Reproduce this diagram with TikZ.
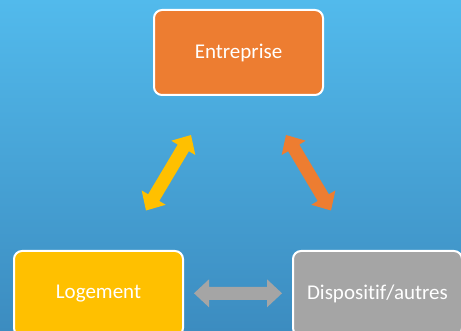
\documentclass[tikz,border=0pt]{standalone}
\usepackage{fontspec}
\setmainfont[Ligatures=NoCommon]{Carlito}
\usetikzlibrary{calc}
\definecolor{bgtop}{RGB}{82,186,236}
\definecolor{bgbot}{RGB}{60,140,192}
\definecolor{orangeA}{RGB}{237,125,49}
\definecolor{yellowA}{RGB}{255,192,0}
\definecolor{greyA}{RGB}{165,165,165}
\newcommand\blockarr[3]{%
\fill[#3] (#1)
 -- ($(#1)!15pt!(#2)!14pt!90:(#2)$)
 -- ($(#1)!15pt!(#2)!6.5pt!90:(#2)$)
 -- ($(#2)!15pt!(#1)!6.5pt!-90:(#1)$)
 -- ($(#2)!15pt!(#1)!14pt!-90:(#1)$)
 -- (#2)
 -- ($(#2)!15pt!(#1)!14pt!90:(#1)$)
 -- ($(#2)!15pt!(#1)!6.5pt!90:(#1)$)
 -- ($(#1)!15pt!(#2)!6.5pt!-90:(#2)$)
 -- ($(#1)!15pt!(#2)!14pt!-90:(#2)$)
 -- cycle;}
\begin{document}
\begin{tikzpicture}[x=1pt,y=-1pt,
  box/.style={rectangle, rounded corners=8pt, draw=white, line width=2pt,
    minimum width=169pt, minimum height=85pt, inner sep=0pt, text=white,
    font=\fontsize{21}{25}\selectfont}]
\useasboundingbox (0,0) rectangle (461,331);
\clip (0,0) rectangle (461,331);
\fill[top color=bgtop, bottom color=bgbot] (0,0) rectangle (461,331);
\node[box, fill=orangeA] (ent) at (238.5,52.5) {Entreprise};
\node[box, fill=yellowA] (log) at (98.5,293.5) {Logement};
\node[box, fill=greyA] (dis) at (377.5,293.5) {Dispositif/autres};
\coordinate (y1) at (146,210.5);
\coordinate (y2) at (191,135);
\coordinate (o1) at (286,135);
\coordinate (o2) at (331,210.5);
\coordinate (g1) at (194,293.3);
\coordinate (g2) at (282,293.3);
\blockarr{y1}{y2}{yellowA}
\blockarr{o1}{o2}{orangeA}
\blockarr{g1}{g2}{greyA}
\end{tikzpicture}
\end{document}
